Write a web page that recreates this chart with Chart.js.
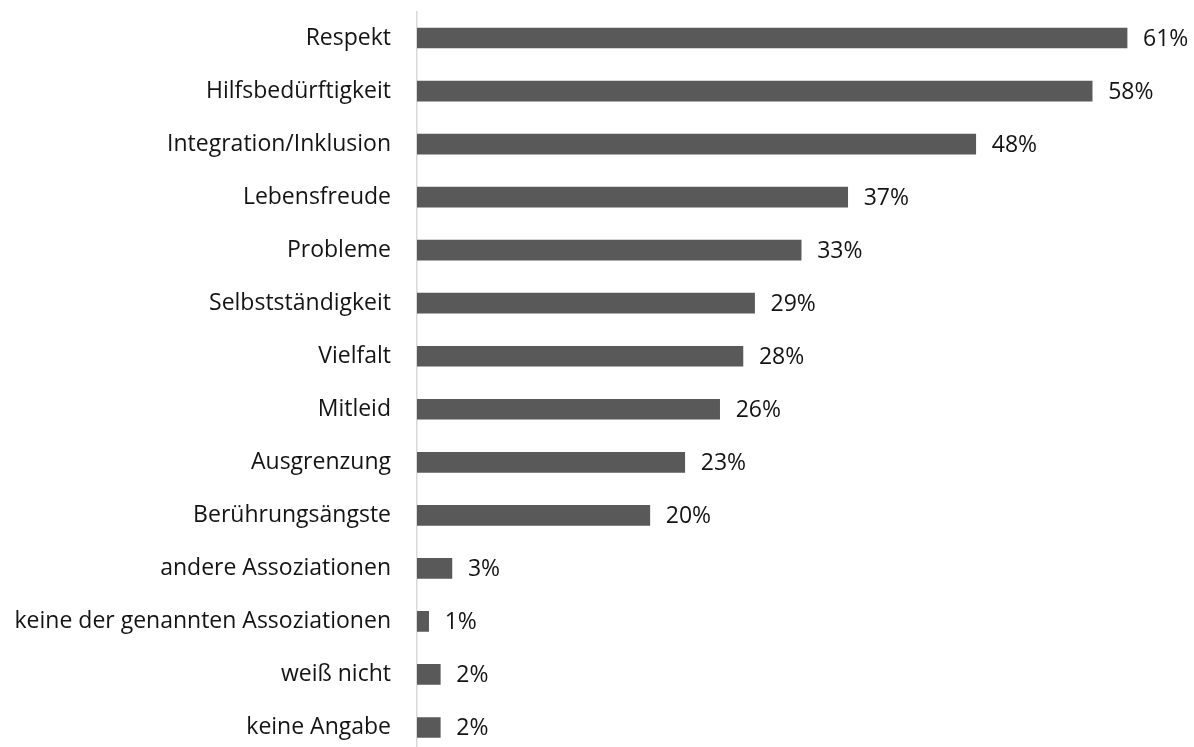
<!DOCTYPE html>
<html>
<head>
<meta charset="utf-8">
<script src="https://cdn.jsdelivr.net/npm/chart.js@4/dist/chart.umd.min.js"></script>
<style>
  html, body { margin: 0; padding: 0; background: #fff; overflow: hidden; }
  #wrap { width: 1194px; height: 754px; }
</style>
</head>
<body>
<div id="wrap"><canvas id="myChart" width="1194" height="754"></canvas></div>
<script>
var categories = [
    'Respekt',
    'Hilfsbedürftigkeit',
    'Integration/Inklusion',
    'Lebensfreude',
    'Probleme',
    'Selbstständigkeit',
    'Vielfalt',
    'Mitleid',
    'Ausgrenzung',
    'Berührungsängste',
    'andere Assoziationen',
    'keine der genannten Assoziationen',
    'weiß nicht',
    'keine Angabe'
];
var percentValues = [61, 58, 48, 37, 33, 29, 28, 26, 23, 20, 3, 1, 2, 2];

var fontFamily = '"Open Sans", sans-serif';
var textColor = '#141414';

// writes "xx%" to the right of every bar
var valueLabels = {
    id: 'valueLabels',
    afterDatasetsDraw: function (chart) {
        var ctx = chart.ctx;
        var meta = chart.getDatasetMeta(0);
        ctx.save();
        ctx.font = '23px ' + fontFamily;
        ctx.fillStyle = textColor;
        ctx.textAlign = 'left';
        ctx.textBaseline = 'middle';
        for (var i = 0; i < meta.data.length; i++) {
            var bar = meta.data[i];
            ctx.fillText(percentValues[i] + '%', bar.x + 16, bar.y + 1);
        }
        ctx.restore();
    }
};

var ctx = document.getElementById('myChart').getContext('2d');
var myChart = new Chart(ctx, {
    type: 'bar',
    data: {
        labels: categories,
        datasets: [{
            data: percentValues,
            backgroundColor: '#595959',
            borderWidth: 0,
            barThickness: 20
        }]
    },
    options: {
        indexAxis: 'y',
        responsive: false,
        animation: false,
        layout: { padding: { top: 11.5, right: 0, bottom: 0, left: 0 } },
        plugins: {
            legend: { display: false },
            tooltip: { enabled: false }
        },
        scales: {
            x: {
                display: false,
                min: 0,
                max: 66.75
            },
            y: {
                // fixed label column, no extra space above/below the rows
                afterFit: function (scale) {
                    scale.width = 417;
                    scale.paddingTop = 0;
                    scale.paddingBottom = 0;
                },
                grid: {
                    drawOnChartArea: false,
                    drawTicks: false,
                    color: '#d9d9d9'
                },
                border: { color: '#d9d9d9', width: 1.5 },
                ticks: {
                    padding: 26,
                    color: textColor,
                    font: { family: fontFamily, size: 23 }
                }
            }
        }
    },
    plugins: [valueLabels]
});
</script>
</body>
</html>
